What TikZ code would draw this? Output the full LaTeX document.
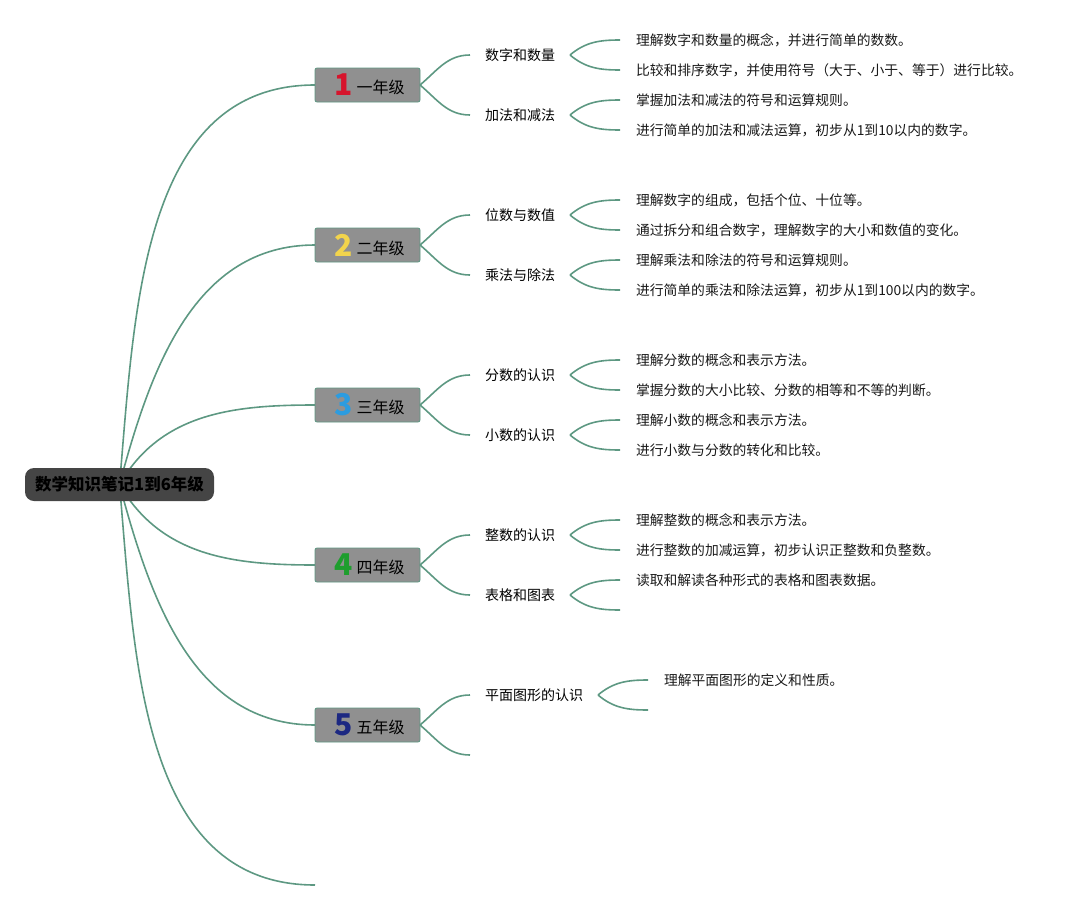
\documentclass[tikz,border=0pt]{standalone}
\usepackage{fontspec}
\setmainfont{Noto Sans CJK SC}
\usetikzlibrary{backgrounds}

\definecolor{branchgreen}{RGB}{93,152,130}
\definecolor{rootgray}{RGB}{69,69,69}
\definecolor{gradegray}{RGB}{144,144,144}
\definecolor{numred}{RGB}{214,20,44}
\definecolor{numyellow}{RGB}{242,212,76}
\definecolor{numblue}{RGB}{44,156,224}
\definecolor{numgreen}{RGB}{30,158,46}
\definecolor{numnavy}{RGB}{28,40,130}

\newcommand{\gradenum}[2]{{\fontsize{30}{30}\selectfont\bfseries\color{#1}#2}}

\tikzset{
  branch/.style={draw=branchgreen, line width=1.6pt},
  forkup/.style={out=40, in=180},
  forkdown/.style={out=-40, in=180},
  rootbox/.style={fill=rootgray, rounded corners=9pt, minimum width=189pt,
    minimum height=33pt, inner sep=0pt, outer sep=0pt, text=black,
    font=\fontsize{16.5}{20}\selectfont\bfseries},
  gradebox/.style={fill=gradegray, draw=branchgreen, line width=0.8pt,
    rounded corners=2pt, minimum width=105pt, minimum height=34pt,
    inner sep=0pt, outer sep=0pt, font=\fontsize{16}{18}\selectfont},
  topic/.style={anchor=west, inner xsep=15pt, inner ysep=0pt, outer sep=0pt,
    font=\fontsize{14}{16}\selectfont},
  leaf/.style={anchor=west, inner xsep=16pt, inner ysep=0pt, outer sep=0pt,
    text=black!90, font=\fontsize{13.8}{16}\selectfont},
}

\begin{document}
\begin{tikzpicture}[x=1pt, y=1pt]
  \useasboundingbox (0,0) rectangle (1087,-910);

  % root
  \node[rootbox] (root) at (119.5,-484.5) {数学知识笔记1到6年级};

  % grade boxes
  \foreach \g/\c [count=\i] in {一/numred, 二/numyellow, 三/numblue, 四/numgreen, 五/numnavy}
  {
    \node[gradebox] (g_\i) at (367.5,{-85-160*(\i-1)}) {\hspace{4pt}\gradenum{\c}{\i}\hspace{4pt}\raisebox{2pt}{\g 年级}};
  }
  \coordinate (g_6) at (315,-885);

  % topics
  \node[topic] (t_1) at (470,-55)  {数字和数量};
  \node[topic] (t_2) at (470,-115) {加法和减法};
  \node[topic] (t_3) at (470,-215) {位数与数值};
  \node[topic] (t_4) at (470,-275) {乘法与除法};
  \node[topic] (t_5) at (470,-375) {分数的认识};
  \node[topic] (t_6) at (470,-435) {小数的认识};
  \node[topic] (t_7) at (470,-535) {整数的认识};
  \node[topic] (t_8) at (470,-595) {表格和图表};
  \node[topic] (t_9) at (470,-695) {平面图形的认识};
  \coordinate (t_10) at (470,-755);

  % leaves
  \node[leaf] (l_1)  at (620,-40)  {理解数字和数量的概念，并进行简单的数数。};
  \node[leaf] (l_2)  at (620,-70)  {比较和排序数字，并使用符号（大于、小于、等于）进行比较。};
  \node[leaf] (l_3)  at (620,-100) {掌握加法和减法的符号和运算规则。};
  \node[leaf] (l_4)  at (620,-130) {进行简单的加法和减法运算，初步从1到10以内的数字。};
  \node[leaf] (l_5)  at (620,-200) {理解数字的组成，包括个位、十位等。};
  \node[leaf] (l_6)  at (620,-230) {通过拆分和组合数字，理解数字的大小和数值的变化。};
  \node[leaf] (l_7)  at (620,-260) {理解乘法和除法的符号和运算规则。};
  \node[leaf] (l_8)  at (620,-290) {进行简单的乘法和除法运算，初步从1到100以内的数字。};
  \node[leaf] (l_9)  at (620,-360) {理解分数的概念和表示方法。};
  \node[leaf] (l_10) at (620,-390) {掌握分数的大小比较、分数的相等和不等的判断。};
  \node[leaf] (l_11) at (620,-420) {理解小数的概念和表示方法。};
  \node[leaf] (l_12) at (620,-450) {进行小数与分数的转化和比较。};
  \node[leaf] (l_13) at (620,-520) {理解整数的概念和表示方法。};
  \node[leaf] (l_14) at (620,-550) {进行整数的加减运算，初步认识正整数和负整数。};
  \node[leaf] (l_15) at (620,-580) {读取和解读各种形式的表格和图表数据。};
  \coordinate (l_16) at (620,-610);
  \node[leaf] (l_17) at (648,-680) {理解平面图形的定义和性质。};
  \coordinate (l_18) at (648,-710);

  % edges
  \begin{pgfonlayer}{background}
    \draw[branch] (root.center) to[out=85, in=180]  (g_1.west);
    \draw[branch] (root.center) to[out=75, in=180]  (g_2.west);
    \draw[branch] (root.center) to[out=60, in=180]  (g_3.west);
    \draw[branch] (root.center) to[out=-60, in=180] (g_4.west);
    \draw[branch] (root.center) to[out=-75, in=180] (g_5.west);
    \draw[branch] (root.center) to[out=-85, in=180] (g_6);
  \end{pgfonlayer}
  \draw[branch] (g_1.east) to[forkup]   (t_1.west);
  \draw[branch] (g_1.east) to[forkdown] (t_2.west);
  \draw[branch] (g_2.east) to[forkup]   (t_3.west);
  \draw[branch] (g_2.east) to[forkdown] (t_4.west);
  \draw[branch] (g_3.east) to[forkup]   (t_5.west);
  \draw[branch] (g_3.east) to[forkdown] (t_6.west);
  \draw[branch] (g_4.east) to[forkup]   (t_7.west);
  \draw[branch] (g_4.east) to[forkdown] (t_8.west);
  \draw[branch] (g_5.east) to[forkup]   (t_9.west);
  \draw[branch] (g_5.east) to[forkdown] (t_10);
  \draw[branch] (t_1.east) to[forkup]   (l_1.west);
  \draw[branch] (t_1.east) to[forkdown] (l_2.west);
  \draw[branch] (t_2.east) to[forkup]   (l_3.west);
  \draw[branch] (t_2.east) to[forkdown] (l_4.west);
  \draw[branch] (t_3.east) to[forkup]   (l_5.west);
  \draw[branch] (t_3.east) to[forkdown] (l_6.west);
  \draw[branch] (t_4.east) to[forkup]   (l_7.west);
  \draw[branch] (t_4.east) to[forkdown] (l_8.west);
  \draw[branch] (t_5.east) to[forkup]   (l_9.west);
  \draw[branch] (t_5.east) to[forkdown] (l_10.west);
  \draw[branch] (t_6.east) to[forkup]   (l_11.west);
  \draw[branch] (t_6.east) to[forkdown] (l_12.west);
  \draw[branch] (t_7.east) to[forkup]   (l_13.west);
  \draw[branch] (t_7.east) to[forkdown] (l_14.west);
  \draw[branch] (t_8.east) to[forkup]   (l_15.west);
  \draw[branch] (t_8.east) to[forkdown] (l_16);
  \draw[branch] (t_9.east) to[forkup]   (l_17.west);
  \draw[branch] (t_9.east) to[forkdown] (l_18);
\end{tikzpicture}
\end{document}
